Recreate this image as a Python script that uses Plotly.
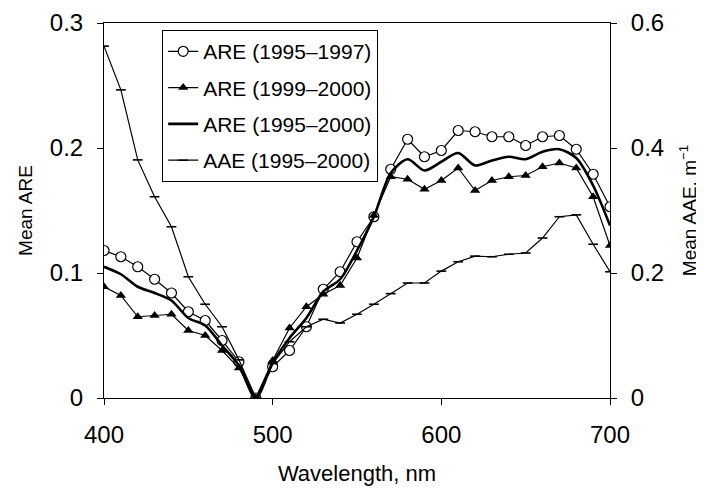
import plotly.graph_objects as go

wavelength = list(range(400, 701, 10))

are_9597 = [0.118, 0.113, 0.105, 0.095, 0.084, 0.069, 0.062, 0.046, 0.029, 0.0,
            0.025, 0.038, 0.057, 0.087, 0.101, 0.125, 0.145, 0.183, 0.207, 0.193,
            0.198, 0.214, 0.213, 0.209, 0.209, 0.202, 0.209, 0.210, 0.199, 0.179,
            0.153]

are_9900 = [0.089, 0.082, 0.065, 0.066, 0.067, 0.054, 0.050, 0.038, 0.024, 0.0,
            0.030, 0.056, 0.073, 0.083, 0.090, 0.112, 0.146, 0.177, 0.175, 0.167,
            0.174, 0.184, 0.166, 0.174, 0.177, 0.178, 0.185, 0.188, 0.184, 0.161,
            0.122]

are_9500 = [0.105, 0.099, 0.089, 0.084, 0.078, 0.064, 0.058, 0.042, 0.026, 0.0,
            0.028, 0.048, 0.064, 0.085, 0.095, 0.118, 0.145, 0.180, 0.191, 0.182,
            0.189, 0.196, 0.186, 0.190, 0.193, 0.191, 0.197, 0.199, 0.192, 0.170,
            0.138]

aae_9500 = [0.563, 0.493, 0.381, 0.322, 0.274, 0.194, 0.150, 0.114, 0.061, 0.0,
            0.055, 0.090, 0.114, 0.126, 0.120, 0.134, 0.150, 0.167, 0.184, 0.184,
            0.203, 0.218, 0.227, 0.226, 0.230, 0.232, 0.256, 0.290, 0.293, 0.246,
            0.202]

font = 'Liberation Sans, Arial, sans-serif'

fig = go.Figure()

fig.add_trace(go.Scatter(
    x=wavelength, y=are_9597, name='ARE (1995–1997)', legendgroup='a',
    mode='lines+markers',
    line=dict(color='black', width=1.2),
    marker=dict(symbol='circle', size=10, color='white',
                line=dict(color='black', width=1.2)),
))
fig.add_trace(go.Scatter(
    x=wavelength, y=are_9900, name='ARE (1999–2000)', legendgroup='b',
    mode='lines+markers',
    line=dict(color='black', width=1.2),
    marker=dict(symbol='triangle-up', size=9, color='black'),
))
fig.add_trace(go.Scatter(
    x=wavelength, y=are_9500, name='ARE (1995–2000)', legendgroup='c',
    mode='lines',
    line=dict(color='black', width=2.6, shape='spline', smoothing=0.8),
))
fig.add_trace(go.Scatter(
    x=wavelength, y=aae_9500, name='AAE (1995–2000)', legendgroup='d',
    mode='lines+markers', yaxis='y2',
    line=dict(color='black', width=1.2),
    marker=dict(symbol='line-ew', size=7, color='black',
                line=dict(color='black', width=1.6)),
))

# page body adds an 8px offset, so margins are shifted to compensate
fig.update_layout(
    width=704, height=488,
    plot_bgcolor='white',
    paper_bgcolor='white',
    margin=dict(t=15, b=98, l=96, r=102),
    font=dict(family=font, color='black'),
    showlegend=True,
    legend=dict(
        x=0.115, y=0.981, xanchor='left', yanchor='top',
        bordercolor='black', borderwidth=1,
        font=dict(size=21, family=font),
        tracegroupgap=6,
        bgcolor='white',
    ),
)

fig.update_xaxes(
    range=[400, 700], tickvals=[400, 500, 600, 700],
    ticks='outside', ticklen=6, tickcolor='black', ticklabelstandoff=9,
    showline=True, linecolor='black', linewidth=1, mirror=True,
    showgrid=False, zeroline=False, automargin=False,
    tickfont=dict(size=24),
    title=dict(text='Wavelength, nm', font=dict(size=22), standoff=18),
)
fig.update_yaxes(
    range=[0, 0.3], tickvals=[0, 0.1, 0.2, 0.3],
    ticks='outside', ticklen=6, tickcolor='black', ticklabelstandoff=9,
    showline=True, linecolor='black', linewidth=1,
    showgrid=False, zeroline=False, automargin=False,
    tickfont=dict(size=24),
    title=dict(text='Mean ARE', font=dict(size=19), standoff=12),
)
fig.update_layout(
    yaxis2=dict(
        overlaying='y', side='right',
        range=[0, 0.6], tickvals=[0, 0.2, 0.4, 0.6],
        ticks='outside', ticklen=6, tickcolor='black', ticklabelstandoff=9,
        showline=True, linecolor='black', linewidth=1,
        showgrid=False, zeroline=False, automargin=False,
        tickfont=dict(size=24),
        title=dict(text='Mean AAE, m<sup>−1</sup>', font=dict(size=19), standoff=19),
    )
)

fig.write_html("out.html")
